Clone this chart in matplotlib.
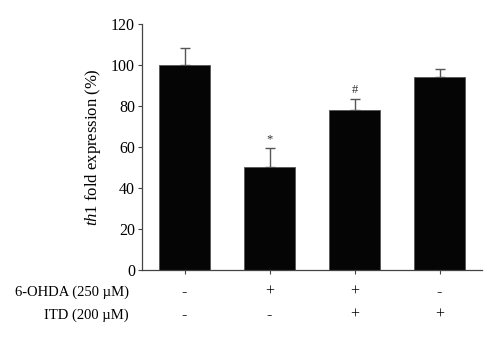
import matplotlib.pyplot as plt
import numpy as np

plt.rcParams["font.family"] = ["Liberation Serif", "DejaVu Serif"]
plt.rcParams["mathtext.fontset"] = "custom"
plt.rcParams["mathtext.rm"] = "Liberation Serif"
plt.rcParams["mathtext.it"] = "Liberation Serif:italic"

groups = ["ctrl", "6-OHDA", "6-OHDA+ITD", "ITD"]
values = [100, 50, 78, 94]
errors = [8, 9.5, 5.3, 4]
marks = ["", "*", "#", ""]
ohda_row = ["-", "+", "+", "-"]
itd_row = ["-", "-", "+", "+"]
row_labels = ["6-OHDA (250 \u00b5M)", "ITD (200 \u00b5M)"]

fig = plt.figure(figsize=(5, 3.41), dpi=100)
ax = fig.add_axes([0.284, 0.208, 0.68, 0.722])

x = np.arange(len(values))
ax.bar(x, values, width=0.61, color="#050505", edgecolor="#555555", linewidth=0.6, zorder=2)
ax.errorbar(x, values, yerr=[np.zeros(len(errors)), errors], fmt="none",
            ecolor="#555555", elinewidth=1.0, capsize=3.5, capthick=1.0, zorder=1)

for xi, v, e, m in zip(x, values, errors, marks):
    if m:
        ax.text(xi, v + e + 1.5, m, ha="center", va="bottom", fontsize=9, color="#333333")

ax.set_xlim(-0.5, 3.5)
ax.set_ylim(0, 120)
ax.set_yticks(np.arange(0, 121, 20))
ax.set_xticks(x)
ax.set_xticklabels([])
ax.tick_params(axis="both", direction="out", length=3, width=0.8, color="#444444",
               labelsize=11.5, pad=2)
for s in ["top", "right"]:
    ax.spines[s].set_visible(False)
for s in ["left", "bottom"]:
    ax.spines[s].set_color("#444444")
    ax.spines[s].set_linewidth(0.9)

ax.set_ylabel("$\\it{th1}$ fold expression (%)", fontsize=12, labelpad=6)

# treatment table under the axis
row_y = [1 - 292 / 341, 1 - 315 / 341]
for row, yfig in zip([ohda_row, itd_row], row_y):
    for xi, sym in zip(x, row):
        xfig = ax.transData.transform((xi, 0))[0] / fig.bbox.width
        fig.text(xfig, yfig, sym, ha="center", va="center", fontsize=11.5)
for lab, yfig in zip(row_labels, row_y):
    fig.text(129 / 500, yfig, lab, ha="right", va="center", fontsize=10.5)

fig.savefig("out.png", dpi=100)
